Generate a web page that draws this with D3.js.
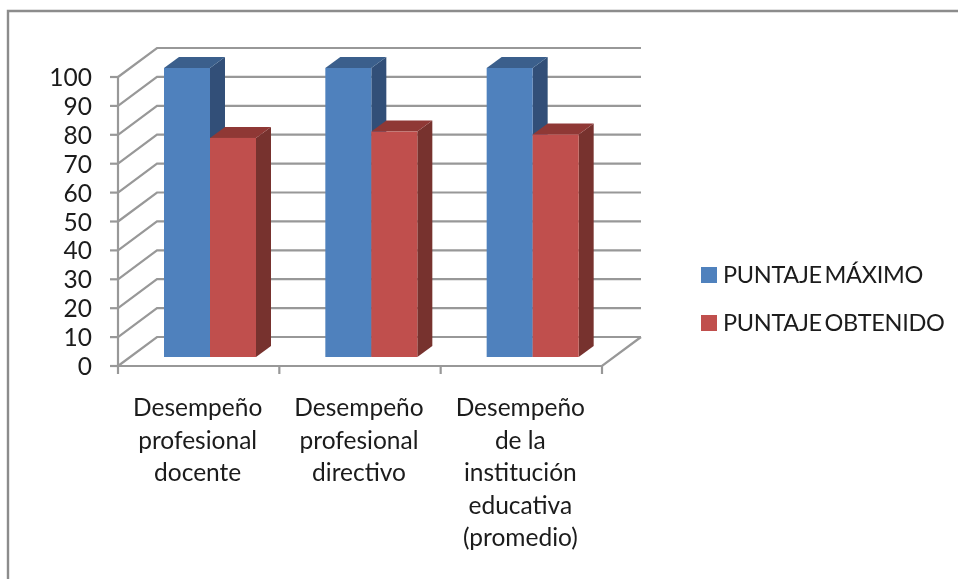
<!DOCTYPE html>
<html><head><meta charset="utf-8">
<script src="https://cdn.jsdelivr.net/npm/d3@7"></script>
<style>html,body{margin:0;padding:0;background:#fff}svg{display:block}text{font-family:Lato,sans-serif;fill:#1a1a1a}</style>
</head><body><div id="c"></div>
<script>
const categories = [["Desempeño","profesional","docente"],["Desempeño","profesional","directivo"],["Desempeño","de la","institución","educativa","(promedio)"]];
const seriesNames = ["PUNTAJE MÁXIMO","PUNTAJE OBTENIDO"];
const maximo = [100,100,100];
const obtenido = [75.8,78,77];
const yTicks = [0,10,20,30,40,50,60,70,80,90,100];
const colors = [{f:"#4f81bd",t:"#3a5f8c",s:"#305078"},{f:"#c0504d",t:"#8f3936",s:"#77302e"}];

const W=958,H=579;
const svg=d3.select("#c").append("svg").attr("width",W).attr("height",H);
const soft=svg.append("defs").append("filter").attr("id","soft")
  .attr("filterUnits","userSpaceOnUse").attr("x",0).attr("y",0).attr("width",W).attr("height",H);
soft.append("feGaussianBlur").attr("stdDeviation",0.5);
const root=svg.append("g").attr("filter","url(#soft)");

root.append("path").attr("d","M8,579V11H958").attr("fill","none").attr("stroke","#8c8c8c").attr("stroke-width",2.4);

const y=d3.scaleLinear().domain([0,100]).range([366,77]);
const x=d3.scaleBand().domain(d3.range(3)).range([118,602]);
const depth={dx:39,dy:-29}, bar={dx:15,dy:-11}, inset={dx:12,dy:-9};
const grid="#989898";

// walls and gridlines
const g=root.append("g").attr("fill","none").attr("stroke",grid).attr("stroke-width",2.2);
yTicks.forEach(t=>{
  g.append("path").attr("d",`M${x.range()[0]},${y(t)}l${depth.dx},${depth.dy}H${x.range()[1]+depth.dx}`);
  g.append("path").attr("d",`M${x.range()[0]-8},${y(t)}H${x.range()[0]}`);
});
g.append("path").attr("d",`M${x.range()[0]},${y(100)}V${y(0)+8}`);
g.append("path").attr("d",`M${x.range()[0]},${y(0)}H${x.range()[1]}l${depth.dx},${depth.dy}`);
d3.range(1,4).forEach(i=>{
  const px=i<3?x(i):x.range()[1];
  g.append("path").attr("d",`M${px},${y(0)}v8`);
});

// bars
const bw=46, gap=34;
[maximo,obtenido].forEach((vals,si)=>{
  vals.forEach((v,i)=>{
    const c=colors[si], xl=x(i)+inset.dx+gap+si*bw, yb=y(0)+inset.dy, yt=y(v)+inset.dy, xr=xl+bw;
    const b=root.append("g");
    b.append("path").attr("d",`M${xr},${yb}V${yt}l${bar.dx},${bar.dy}V${yb+bar.dy}Z`).attr("fill",c.s);
    b.append("path").attr("d",`M${xl},${yt}H${xr}l${bar.dx},${bar.dy}H${xl+bar.dx}Z`).attr("fill",c.t);
    b.append("rect").attr("x",xl).attr("y",yt).attr("width",bw).attr("height",yb-yt).attr("fill",c.f);
  });
});

// y labels
root.append("g").selectAll("text").data(yTicks).join("text")
  .attr("x",92).attr("y",d=>y(d)+9).attr("text-anchor","end").attr("font-size",24.5).text(d=>d);

// category labels
categories.forEach((lines,i)=>{
  const t=root.append("text").attr("text-anchor","middle").attr("font-size",24.5);
  lines.forEach((l,k)=>t.append("tspan").attr("x",x(i)+x.bandwidth()/2-1).attr("y",416+k*32.5).text(l));
});

// legend
seriesNames.forEach((n,i)=>{
  const yy=[275,323][i];
  root.append("rect").attr("x",701).attr("y",yy-8).attr("width",16).attr("height",16).attr("fill",colors[i].f);
  root.append("text").attr("x",723).attr("y",yy+8).attr("font-size",23.5)
    .attr("letter-spacing",-0.3).attr("word-spacing",-3).text(n);
});
</script></body></html>
